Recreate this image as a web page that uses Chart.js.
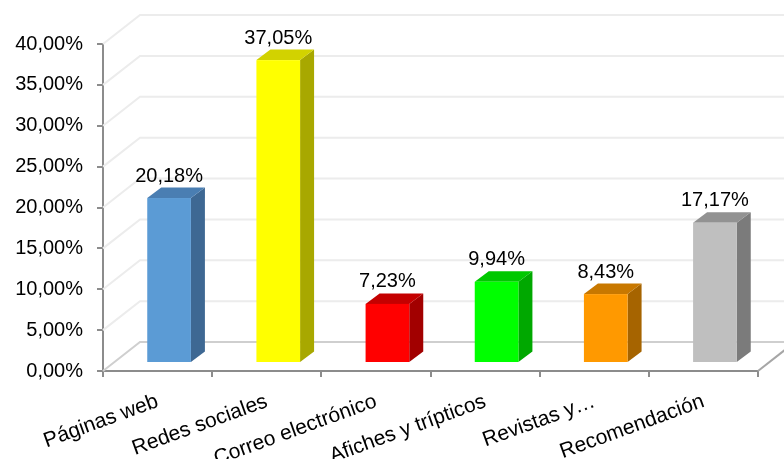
<!DOCTYPE html>
<html lang="es">
<head>
<meta charset="utf-8">
<title>Medios de difusión</title>
<script src="https://cdn.jsdelivr.net/npm/chart.js@4/dist/chart.umd.min.js"></script>
<style>
  html, body { margin: 0; padding: 0; background: #fff; }
  canvas { display: block; }
</style>
</head>
<body>
<canvas id="graficoMedios" width="784" height="459"></canvas>
<script>
// ----------------------
// Datos
// ----------------------
const categorias = ['Páginas web', 'Redes sociales', 'Correo electrónico', 'Afiches y trípticos', 'Revistas y…', 'Recomendación'];
const porcentajes = [20.18, 37.05, 7.23, 9.94, 8.43, 17.17];

// Colores de cada cara del prisma
const colorFrente = ['#5b9bd5', '#ffff00', '#ff0000', '#00ff00', '#ff9900', '#bfbfbf'];
const colorTapa   = ['#4a7eb2', '#d2d200', '#c40000', '#00c800', '#c87800', '#929292'];
const colorLado   = ['#3e6893', '#a8a800', '#a20000', '#00a800', '#a66400', '#7b7b7b'];

// Eje Y
const ejeMin = 0;
const ejeMax = 40;
const ejePaso = 5;

// Geometría del efecto 3D
const PARED_X = 37;   // profundidad de la pared de fondo
const PARED_Y = 29;
const DESP_X = 11.5;  // las barras quedan a media profundidad
const DESP_Y = -8;
const BARRA_X = 14;   // grosor de la barra
const BARRA_Y = 10.5;

const FUENTE = '"Liberation Sans", Arial, sans-serif';
const fmt = v => v.toFixed(2).replace('.', ',') + '%';

// ----------------------
// Plugin: pared, piso y prismas
// ----------------------
const barras3D = {
  id: 'barras3D',
  beforeDatasetsDraw(chart) {
    const { ctx, chartArea: a, scales: { y } } = chart;
    ctx.save();
    ctx.lineWidth = 2;
    y.ticks.forEach(t => {
      const py = y.getPixelForValue(t.value);
      ctx.strokeStyle = t.value === 0 ? '#cfcfcf' : '#ececec';
      ctx.beginPath();
      ctx.moveTo(a.left, py);
      ctx.lineTo(a.left + PARED_X, py - PARED_Y);
      ctx.lineTo(a.right + PARED_X, py - PARED_Y);
      ctx.stroke();
    });
    // borde derecho del piso
    ctx.strokeStyle = '#a6a6a6';
    ctx.beginPath();
    ctx.moveTo(a.right, a.bottom);
    ctx.lineTo(a.right + PARED_X, a.bottom - PARED_Y);
    ctx.stroke();
    ctx.restore();
  },
  afterDatasetsDraw(chart) {
    const { ctx } = chart;
    const meta = chart.getDatasetMeta(0);
    ctx.save();
    meta.data.forEach((bar, i) => {
      const { x, y, base, width } = bar.getProps(['x', 'y', 'base', 'width'], true);
      const l = x - width / 2 + DESP_X;
      const r = l + width;
      const t = y + DESP_Y;
      const b = base + DESP_Y;

      // cara lateral
      ctx.fillStyle = colorLado[i];
      ctx.beginPath();
      ctx.moveTo(r, t);
      ctx.lineTo(r + BARRA_X, t - BARRA_Y);
      ctx.lineTo(r + BARRA_X, b - BARRA_Y);
      ctx.lineTo(r, b);
      ctx.closePath();
      ctx.fill();

      // tapa
      ctx.fillStyle = colorTapa[i];
      ctx.beginPath();
      ctx.moveTo(l, t);
      ctx.lineTo(l + BARRA_X, t - BARRA_Y);
      ctx.lineTo(r + BARRA_X, t - BARRA_Y);
      ctx.lineTo(r, t);
      ctx.closePath();
      ctx.fill();

      // frente
      ctx.fillStyle = colorFrente[i];
      ctx.fillRect(l, t, width, b - t);

      // etiqueta de valor
      ctx.fillStyle = '#000';
      ctx.font = '20px ' + FUENTE;
      ctx.textAlign = 'center';
      ctx.textBaseline = 'alphabetic';
      ctx.fillText(fmt(porcentajes[i]), l + width / 2, t - 16.5);
    });
    ctx.restore();
  }
};

// ----------------------
// Gráfico
// ----------------------
const ctx = document.getElementById('graficoMedios').getContext('2d');
new Chart(ctx, {
  type: 'bar',
  data: {
    labels: categorias,
    datasets: [{
      data: porcentajes,
      backgroundColor: 'rgba(0,0,0,0)',
      borderWidth: 0,
      barPercentage: 0.4,
      categoryPercentage: 1
    }]
  },
  options: {
    responsive: false,
    animation: false,
    layout: { padding: { top: 44, right: 26, left: 0, bottom: 0 } },
    plugins: { legend: { display: false }, tooltip: { enabled: false } },
    scales: {
      x: {
        afterFit: s => { s.height = 88; },
        grid: { drawOnChartArea: false, drawTicks: true, tickLength: 6, color: '#8c8c8c', lineWidth: 2 },
        border: { display: true, color: '#8c8c8c', width: 2 },
        ticks: {
          color: '#000',
          font: { family: FUENTE, size: 21 },
          maxRotation: 20,
          minRotation: 20,
          autoSkip: false,
          padding: 12
        }
      },
      y: {
        min: ejeMin,
        max: ejeMax,
        afterFit: s => { s.width = 103; },
        grid: { drawOnChartArea: false, drawTicks: true, tickLength: 6, color: '#8c8c8c', lineWidth: 2 },
        border: { display: true, color: '#8c8c8c', width: 2 },
        ticks: {
          stepSize: ejePaso,
          color: '#000',
          font: { family: FUENTE, size: 20 },
          padding: 14,
          callback: v => fmt(v)
        }
      }
    }
  },
  plugins: [barras3D]
});
</script>
</body>
</html>
